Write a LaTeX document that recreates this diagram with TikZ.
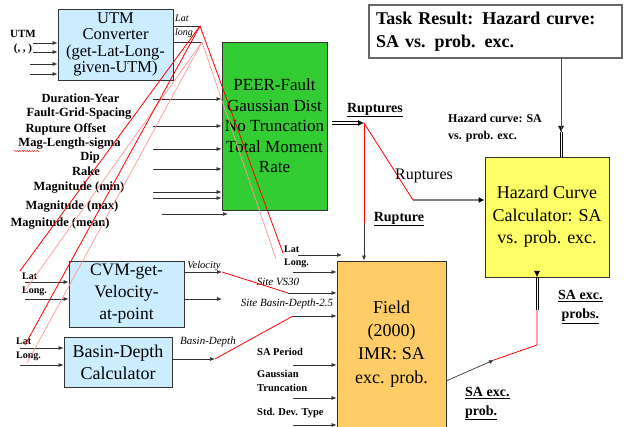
\documentclass[tikz,border=0pt]{standalone}
\usepackage{fontspec}
\setmainfont{Liberation Serif}
\usetikzlibrary{arrows.meta,decorations.pathmorphing}
\definecolor{boxblue}{RGB}{204,236,255}
\definecolor{boxgreen}{RGB}{51,204,51}
\definecolor{boxyellow}{RGB}{255,255,102}
\definecolor{boxorange}{RGB}{255,204,102}
\definecolor{pinkline}{RGB}{255,150,150}
\begin{document}
\begin{tikzpicture}[x=1pt,y=-1pt,
  box/.style={draw=black!80, line width=0.8pt, align=center, inner sep=0pt},
  lbl/.style={font=\bfseries\fontsize{12.5}{14}\selectfont, inner sep=0pt},
  sml/.style={font=\bfseries\fontsize{10}{12}\selectfont, inner sep=0pt, anchor=west},
  itl/.style={font=\itshape\fontsize{11}{13}\selectfont, inner sep=0pt},
  ulbl/.style={font=\bfseries\fontsize{14}{19}\selectfont, inner sep=0pt, anchor=west, align=left},
  arr/.style={draw=black!80, line width=0.7pt, -{Latex[length=5pt,width=4pt]}},
  plain/.style={draw=black!80, line width=0.7pt},
  dline/.style={draw=black, line width=0.6pt},
  tip/.style={draw=black, line width=0.6pt, -{Latex[length=6pt,width=6pt]}},
  redl/.style={draw=red, line width=0.8pt},
  pinkl/.style={draw=pinkline, line width=0.7pt},
  grayarr/.style={draw=gray, line width=2.5pt, -{Latex[length=6pt,width=6pt,black]}}
]
\useasboundingbox (0,0) rectangle (626,427);

% ---------- boxes ----------
\node[box, fill=boxblue, minimum width=115pt, minimum height=71pt,
      font=\fontsize{16.5}{16.5}\selectfont] (utm) at (115.5,44.5)
      {UTM\\Converter\\(get-Lat-Long-\\given-UTM)};
\node[box, fill=boxgreen, minimum width=105pt, minimum height=168pt,
      font=\fontsize{17}{20.5}\selectfont] (peer) at (274.5,126)
      {PEER-Fault\\Gaussian Dist\\No Truncation\\Total Moment\\Rate};
\node[box, draw=black!60, line width=1.2pt, fill=white, minimum width=253pt, minimum height=53pt,
      text width=239pt, align=left, font=\bfseries\fontsize{18}{23}\selectfont] (task) at (495.5,31.5)
      {Task Result: Hazard curve:\\SA vs. prob. exc.};
\node[box, fill=boxyellow, minimum width=124pt, minimum height=120pt,
      font=\fontsize{18}{22.5}\selectfont] (hazard) at (547,217)
      {Hazard Curve\\Calculator: SA\\vs. prob. exc.};
\node[box, fill=boxblue, minimum width=115pt, minimum height=66pt,
      font=\fontsize{17.5}{22}\selectfont] (cvm) at (126.5,294)
      {CVM-get-\\Velocity-\\at-point};
\node[box, fill=boxblue, minimum width=108pt, minimum height=50pt,
      font=\fontsize{18}{22}\selectfont] (basin) at (118,362)
      {Basin-Depth\\Calculator};
\node[box, fill=boxorange, minimum width=109pt, minimum height=166pt,
      font=\fontsize{18}{23.3}\selectfont] (field) at (391.5,344)
      {Field\\(2000)\\IMR: SA\\exc. prob.};

% ---------- UTM inputs ----------
\node[font=\bfseries\fontsize{11}{14}\selectfont, inner sep=0pt, align=center] (utmlbl) at (23,42) {UTM\\(, , )};
\coordinate (u1) at (33,43);
\coordinate (u2) at (33,52);
\coordinate (u3) at (30,64);
\coordinate (u4) at (30,74);
\foreach \c in {u1,u2,u3,u4} \draw[arr] (\c) -- (utm.west |- \c);

% ---------- UTM outputs (Lat / long) ----------
\coordinate (latEnd) at (200,26);
\coordinate (longEnd) at (202,42);
\draw[plain] (utm.east |- latEnd) -- (latEnd);
\draw[plain] (utm.east |- longEnd) -- (longEnd);
\node[itl, font=\itshape\fontsize{10}{12}\selectfont, anchor=west] (latlbl) at (175,18) {Lat};
\node[itl, font=\itshape\fontsize{10}{12}\selectfont, anchor=west] (longlbl) at (175,33) {long};

% ---------- PEER inputs ----------
\node[lbl] (dur) at (80.5,98) {Duration-Year};
\node[lbl] (fgs) at (79,114) {Fault-Grid-Spacing};
\node[lbl] (ro) at (66,129) {Rupture Offset};
\node[lbl] (mls) at (69.5,144) {Mag-Length-sigma};
\node[lbl] (dip) at (90,157) {Dip};
\node[lbl] (rake) at (86,171) {Rake};
\node[lbl] (mmin) at (79,188) {Magnitude (min)};
\node[lbl] (mmax) at (72,207) {Magnitude (max)};
\node[lbl] (mmean) at (60,224) {Magnitude (mean)};
\draw[red, line width=0.4pt, decorate, decoration={snake, amplitude=0.6pt, segment length=2.5pt}] (14,151) -- (40,151);

\coordinate (p1) at (153,99);
\coordinate (p2) at (153,126);
\coordinate (p3) at (153,149);
\coordinate (p4) at (153,169);
\coordinate (p5) at (153,192);
\coordinate (p6) at (153,198);
\foreach \c in {p1,p2,p3,p4,p5,p6} \draw[arr] (\c) -- (peer.west |- \c);
\coordinate (p7s) at (162,214);
\coordinate (p7e) at (228,214);
\draw[arr] (p7s) -- (p7e);

% ---------- CVM ----------
\node[sml] (cvmlat) at (22,276) {Lat};
\node[sml] (cvmlong) at (22,291) {Long.};
\coordinate (c1) at (25,282);
\coordinate (c2) at (25,299);
\draw[arr] (c1) -- (cvm.west |- c1);
\draw[arr] (c2) -- (cvm.west |- c2);
\coordinate (velEnd) at (222,272);
\coordinate (cvm2End) at (222,299);
\draw[arr] (cvm.east |- velEnd) -- (velEnd);
\draw[arr] (cvm.east |- cvm2End) -- (cvm2End);
\node[itl, font=\itshape\fontsize{10.5}{12}\selectfont] (vellbl) at (204,266) {Velocity};

% ---------- Basin ----------
\node[sml] (baslat) at (16,341) {Lat};
\node[sml] (baslong) at (16,356) {Long.};
\coordinate (b1) at (20,348);
\coordinate (b2) at (20,365);
\draw[arr] (b1) -- (basin.west |- b1);
\draw[arr] (b2) -- (basin.west |- b2);
\coordinate (bdEnd) at (215,359);
\draw[arr] (basin.east |- bdEnd) -- (bdEnd);
\node[itl] (bdlbl) at (208,342) {Basin-Depth};

% ---------- Field inputs ----------
\node[sml] (flat) at (284,249) {Lat};
\node[sml] (flong) at (284,263) {Long.};
\coordinate (fl1) at (298,255);
\coordinate (fl1e) at (342,255);
\draw[arr] (fl1) -- (fl1e);
\coordinate (fl2) at (293,272);
\draw[arr] (fl2) -- (field.west |- fl2);
\node[itl] (vslbl) at (278,282) {Site VS30};
\coordinate (vsStart) at (288,293);
\draw[arr] (vsStart) -- (field.west |- vsStart);
\node[itl] (bslbl) at (287,304) {Site Basin-Depth-2.5};
\coordinate (bsStart) at (293,316);
\draw[arr] (bsStart) -- (field.west |- bsStart);
\node[sml, font=\bfseries\fontsize{10.5}{13}\selectfont] (sap) at (257,352) {SA Period};
\coordinate (f5) at (293,365);
\draw[arr] (f5) -- (field.west |- f5);
\node[sml, font=\bfseries\fontsize{10.5}{14}\selectfont, align=left] (gt) at (257,381) {Gaussian\\Truncation};
\coordinate (f6) at (293,398);
\draw[arr] (f6) -- (field.west |- f6);
\node[sml, font=\bfseries\fontsize{10.5}{13}\selectfont] (sdt) at (257,413) {Std. Dev. Type};
\coordinate (f7) at (293,425);
\draw[arr] (f7) -- (field.west |- f7);

% ---------- red link lines ----------
\coordinate (cvmLatS) at (20,271);
\coordinate (basLatS) at (25,345);
\coordinate (fldLatS) at (283,253);
\coordinate (cvmLongS) at (24,292);
\coordinate (basLongS) at (27,363);
\coordinate (fldLongS) at (276,259);
\draw[pinkl] (longEnd) -- (cvmLongS);
\draw[pinkl] (longEnd) -- (basLongS);
\draw[pinkl] (longEnd) -- (fldLongS);
\draw[redl] (latEnd) -- (cvmLatS);
\draw[redl] (latEnd) -- (basLatS);
\draw[redl] (latEnd) -- (fldLatS);
\draw[redl] (velEnd) -- (vsStart);
\draw[redl] (bdEnd) -- (bsStart);

% ---------- Ruptures ----------
\coordinate (rupS) at (332,123);
\coordinate (rupJ) at (364,123);
\draw[dline] ([yshift=1.2pt]rupS) -- ([yshift=1.2pt,xshift=-4pt]rupJ);
\draw[dline] ([yshift=-1.2pt]rupS) -- ([yshift=-1.2pt,xshift=-4pt]rupJ);
\draw[tip] ([xshift=-5pt]rupJ) -- (rupJ);
\node[font=\bfseries\fontsize{14}{16}\selectfont, inner sep=0pt] (ruplbl) at (375,110) {\underline{Ruptures}};
\coordinate (rupM) at (364,223);
\draw[redl] (rupJ) -- (rupM);
\draw[arr] (rupM) -- (rupM |- field.north);
\node[font=\bfseries\fontsize{14}{16}\selectfont, inner sep=0pt] (rup1lbl) at (399,219) {\underline{Rupture}};
\coordinate (rupK) at (413,200);
\draw[redl] (rupJ) -- (rupK);
\draw[grayarr] (rupK) -- (hazard.west |- rupK);
\node[font=\fontsize{16}{18}\selectfont, inner sep=0pt] (rup2lbl) at (424,176) {Ruptures};

% ---------- Hazard output ----------
\coordinate (hzTop) at (561,132);
\coordinate (hzBase) at (561,157);
\coordinate (taskBot) at (561,58);
\draw[dline] ([xshift=1.2pt]hzBase) -- ([xshift=1.2pt]hzTop);
\draw[dline] ([xshift=-1.2pt]hzBase) -- ([xshift=-1.2pt]hzTop);
\draw[tip] ([yshift=5pt]hzTop) -- (hzTop);
\draw[redl] (hzTop) -- (taskBot);
\node[font=\bfseries\fontsize{12}{17}\selectfont, inner sep=0pt, anchor=west, align=left] (hclbl) at (448,128.5) {Hazard curve: SA\\vs. prob. exc.};

% ---------- SA exc. prob ----------
\coordinate (saS) at (446,381);
\coordinate (saM) at (494,360);
\coordinate (saK) at (537,345);
\coordinate (saL) at (537,310);
\coordinate (saT) at (537,277);
\draw[arr] (saS) -- (saM);
\draw[redl] (saM) -- (saK) -- (saL);
\draw[dline] ([xshift=1.2pt]saL) -- ([xshift=1.2pt]saT);
\draw[dline] ([xshift=-1.2pt]saL) -- ([xshift=-1.2pt]saT);
\draw[tip] ([yshift=5pt]saT) -- (saT);
\node[ulbl] (sa1) at (465,403.5) {\underline{SA exc.}\\\underline{prob.}};
\node[ulbl] (sa2) at (558,307) {\underline{SA exc.}\\\ \underline{probs.}};

\end{tikzpicture}
\end{document}
